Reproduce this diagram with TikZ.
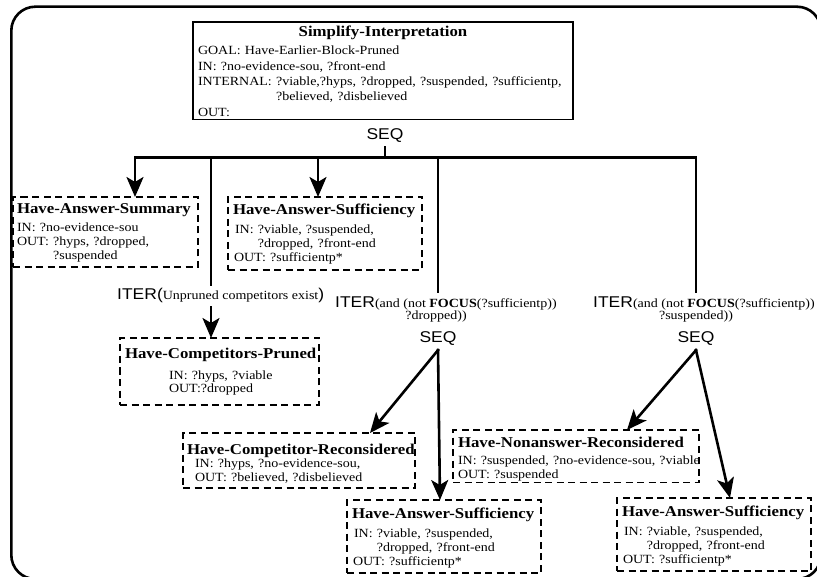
\documentclass[tikz,border=0pt]{standalone}
\usepackage{fontspec}
\setmainfont{Liberation Serif}[FakeStretch=1.12]
\newfontfamily\sansfam{Liberation Sans}[FakeStretch=1.12]
\usetikzlibrary{arrows.meta}
\newcommand\bodyfont{\fontsize{12.5}{14}\selectfont}
\newcommand\topfont{\fontsize{12.5}{15.3}\selectfont}
\newcommand\ttlfont{\fontsize{15}{14}\selectfont\bfseries}
\newcommand\bigsans{\sansfam\fontsize{15.6}{16}\selectfont}
\newcommand\Ln[1]{\mbox{#1}}
\newcommand\Ttl[2]{\rule{0pt}{#1}\mbox{\ttlfont #2}}
\newcommand\Dp{\rule[-3pt]{0pt}{0pt}}
\newcommand\SuffText{\Ttl{13pt}{Have-Answer-Sufficiency}\\[5pt]
 \Ln{\hspace*{2pt}IN: ?viable, ?suspended,}\\
 \Ln{\hspace*{2pt}\phantom{IN: }?dropped, ?front-end}\\
 \Ln{\hspace*{1pt}OUT: ?sufficientp*}\Dp}
\begin{document}
\begin{tikzpicture}[x=1pt, y=-1pt,
 conn/.style={line width=2.6pt, line cap=rect},
 arr/.style={-{Stealth[length=20pt,width=17pt,inset=5pt]}},
 box/.style={rectangle, anchor=north west, align=left, outer sep=0pt, font=\bodyfont},
 solidbox/.style={box, draw, line width=1.4pt},
 dashbox/.style={box, draw, line width=1.3pt, dash pattern=on 7pt off 4.5pt},
 lab/.style={inner sep=0pt, font=\bodyfont}]
\useasboundingbox (0,0) rectangle (817,577);
% frame
\draw[line width=2.6pt, rounded corners=24pt] (11.3,6.7) rectangle (821,579);
% boxes
\node[solidbox, font=\topfont, text width=370pt, inner xsep=5pt, inner ysep=3pt] (top) at (193,22)
 {\rule{0pt}{12pt}\makebox[\linewidth][c]{\ttlfont Simplify-Interpretation}\\[2.7pt]
  \Ln{GOAL: Have-Earlier-Block-Pruned}\\
  \Ln{IN: ?no-evidence-sou, ?front-end}\\
  \Ln{INTERNAL: ?viable,?hyps, ?dropped, ?suspended, ?sufficientp,}\\
  \Ln{\phantom{INTERNAL: }?believed, ?disbelieved}\\
  OUT:};
\node[dashbox, text width=177pt, inner xsep=4pt, inner ysep=4pt] (summary) at (13,197)
 {\Ttl{13pt}{Have-Answer-Summary}\\[4pt]
  \Ln{IN: ?no-evidence-sou}\\
  \Ln{OUT: ?hyps, ?dropped,}\\
  \Ln{\phantom{OUT: }?suspended}\Dp};
\node[dashbox, text width=184pt, inner xsep=5pt, inner ysep=5pt] (suff1) at (228,197) {\SuffText};
\node[dashbox, text width=189pt, inner xsep=5pt, inner ysep=9pt] (pruned) at (120,338)
 {\Ttl{12pt}{Have-Competitors-Pruned}\\[7pt]
  \Ln{\hspace*{44pt}IN: ?hyps, ?viable}\\[-1pt]
  \Ln{\hspace*{44pt}OUT:?dropped}\Dp};
\node[dashbox, text width=224pt, inner xsep=4pt, inner ysep=4pt] (recon) at (183,433)
 {\Ttl{17pt}{Have-Competitor-Reconsidered}\\[-1pt]
  \Ln{\hspace*{8pt}IN: ?hyps, ?no-evidence-sou,}\\
  \Ln{\hspace*{8pt}OUT: ?believed, ?disbelieved}\Dp};
\node[dashbox, text width=236pt, inner xsep=5pt, inner ysep=1.5pt] (nonans) at (453,430)
 {\Ttl{15.5pt}{Have-Nonanswer-Reconsidered}\\[3pt]
  \Ln{IN: ?suspended, ?no-evidence-sou, ?viable}\\
  \Ln{OUT: ?suspended}\Dp};
\node[dashbox, text width=184pt, inner xsep=5pt, inner ysep=5pt] (suff2) at (347,500) {\SuffText};
\node[dashbox, text width=184pt, inner xsep=5pt, inner ysep=5pt] (suff3) at (617,498) {\SuffText};
% labels
\node[lab, anchor=base, font=\bigsans, inner ysep=4pt] (seqA) at (385,140) {SEQ};
\node[lab, anchor=base west, inner ysep=4pt] (iterA) at (117,300)
 {{\bigsans ITER(}Unpruned competitors exist{\bigsans )}};
\node[lab, anchor=base west, inner ysep=5pt] (iterB) at (335,308)
 {{\bigsans ITER}(and (not \textbf{FOCUS}(?sufficientp))};
\node[lab, anchor=base] (condB) at (436,320) {?dropped))};
\node[lab, anchor=base, font=\bigsans, inner ysep=4pt] (seqB) at (438,343) {SEQ};
\node[lab, anchor=base west, inner ysep=5pt] (iterC) at (593,308)
 {{\bigsans ITER}(and (not \textbf{FOCUS}(?sufficientp))};
\node[lab, anchor=base] (condC) at (696,320) {?suspended))};
\node[lab, anchor=base, font=\bigsans, inner ysep=4pt] (seqC) at (696,343) {SEQ};
% bus coordinates
\coordinate (bL) at (135,157.5);
\coordinate (b1) at (211,157.5);
\coordinate (b2) at (318,157.5);
\coordinate (b3) at (385,157.5);
\coordinate (b4) at (438,157.5);
\coordinate (bR) at (696,157.5);
\coordinate (tRecon) at (370,0);
\coordinate (tSuff2) at (440,0);
\coordinate (tNon) at (627,0);
\coordinate (tSuff3) at (730,0);
% connectors
\draw[conn] (seqA.south) -- (b3);
\draw[conn] (bR |- iterC.north) -- (bR) -- (bL);
\draw[conn,arr] (bL) -- (bL |- summary.north);
\draw[conn,arr] (b2) -- (b2 |- suff1.north);
\draw[conn] (b1) -- (b1 |- iterA.north);
\draw[conn,arr] (b1 |- iterA.south) -- (b1 |- pruned.north);
\draw[conn] (b4) -- (b4 |- iterB.north);
\draw[conn,arr] (seqB.south) -- (recon.north -| tRecon);
\draw[conn,arr] (seqB.south) -- (suff2.north -| tSuff2);
\draw[conn,arr] (seqC.south) -- (nonans.north -| tNon);
\draw[conn,arr] (seqC.south) -- (suff3.north -| tSuff3);
\end{tikzpicture}
\end{document}
